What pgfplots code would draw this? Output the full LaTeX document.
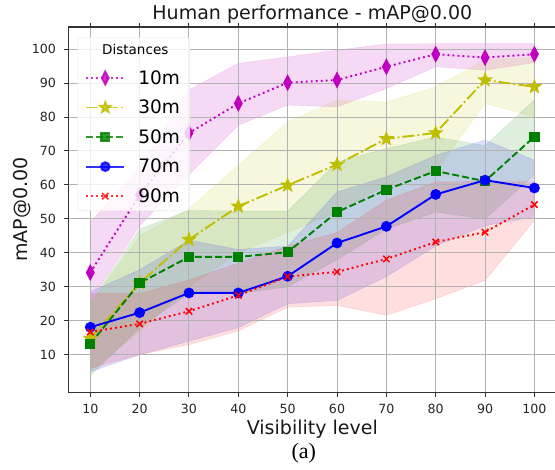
\documentclass[border=0pt]{standalone}
\usepackage{pgfplots}
\pgfplotsset{compat=1.18}
\usepackage{fontspec}
\setmainfont{DejaVu Sans}
\newfontfamily\capfont{Liberation Serif}
\usetikzlibrary{plotmarks}

\definecolor{mc}{rgb}{0.75,0,0.75}
\definecolor{yc}{rgb}{0.75,0.75,0}
\definecolor{gc}{rgb}{0,0.5,0}
\definecolor{bc}{rgb}{0,0,1}
\definecolor{rc}{rgb}{1,0,0}

\pgfdeclareplotmark{fstar}{%
  \pgfpathmoveto{\pgfpointpolar{90}{\pgfplotmarksize}}%
  \pgfpathlineto{\pgfpointpolar{126}{0.42\pgfplotmarksize}}%
  \pgfpathlineto{\pgfpointpolar{162}{\pgfplotmarksize}}%
  \pgfpathlineto{\pgfpointpolar{198}{0.42\pgfplotmarksize}}%
  \pgfpathlineto{\pgfpointpolar{234}{\pgfplotmarksize}}%
  \pgfpathlineto{\pgfpointpolar{270}{0.42\pgfplotmarksize}}%
  \pgfpathlineto{\pgfpointpolar{306}{\pgfplotmarksize}}%
  \pgfpathlineto{\pgfpointpolar{342}{0.42\pgfplotmarksize}}%
  \pgfpathlineto{\pgfpointpolar{18}{\pgfplotmarksize}}%
  \pgfpathlineto{\pgfpointpolar{54}{0.42\pgfplotmarksize}}%
  \pgfpathclose
  \pgfusepathqfillstroke
}

\begin{document}
\begin{tikzpicture}
\begin{axis}[
  set layers,
  scale only axis, width=488pt, height=365pt,
  xmin=5.5, xmax=104.5, ymin=-1.1, ymax=106.5,
  xtick={10,20,...,100}, ytick={10,20,...,100},
  grid=major, grid style={color=black!30, line width=1pt},
  axis line style={color=black!80, line width=1.1pt},
  tick align=outside, major tick length=4.5pt,
  tick style={color=black!80, line width=1pt},
  tick label style={font=\fontsize{12.6}{14}\selectfont, color=black!85},
  /pgf/number format/assume math mode=true,
  xticklabel style={anchor=base, inner sep=0pt, yshift=-17pt},
  yticklabel style={anchor=east, inner sep=0pt, xshift=-7.5pt},
  title={Human performance - mAP@0.00},
  title style={at={(axis description cs:0.5,1)}, anchor=base, yshift=1.5pt, inner sep=0pt, font=\fontsize{19}{22}\selectfont, color=black!90},
  xlabel={Visibility level},
  xlabel style={at={(axis description cs:0.5,0)}, anchor=base, yshift=-42pt, inner sep=0pt, font=\fontsize{19}{22}\selectfont, color=black!90},
  ylabel={mAP@0.00},
  ylabel style={at={(axis description cs:-0.0758,0.5)}, anchor=south, inner sep=0pt, font=\fontsize{19}{22}\selectfont, color=black!90},
  legend cell align=left,
  legend image code/.code={%
    \draw[#1, mark=none] (0pt,0pt) -- (38pt,0pt);
    \draw[#1, only marks] plot coordinates {(19pt,0pt)};},
  legend style={at={(axis description cs:0,1)}, anchor=north west, xshift=9pt, yshift=-10pt,
    draw=black!15, rounded corners=3pt, fill=white, fill opacity=0.8, draw opacity=0.8, text opacity=1,
    inner xsep=8pt, inner ysep=5pt, row sep=10.3pt, column sep=11pt,
    font=\fontsize{18.5}{20}\selectfont},
]
\coordinate (sw) at (rel axis cs:0,0);
\coordinate (ne) at (rel axis cs:1,1);

% ---- bands (upper forward, lower reversed) ----
\addplot[forget plot, draw=mc, draw opacity=0.15, fill=mc, fill opacity=0.15, on layer=axis background] coordinates {
 (10,49) (20,65) (30,88) (40,95.8) (50,97.7) (60,99.7) (70,101.5) (80,101.6) (90,101.6) (100,101.6)
 (100,96) (90,93.8) (80,94.8) (70,88.4) (60,83) (50,83.5) (40,77.6) (30,63) (20,48) (10,25.5)} -- cycle;
\addplot[forget plot, draw=yc, draw opacity=0.15, fill=yc, fill opacity=0.13, on layer=axis background] coordinates {
 (10,25) (20,45) (30,53) (40,65.8) (50,78.6) (60,85) (70,84.4) (80,88.9) (90,96.8) (100,97.5)
 (100,80) (90,84) (80,64) (70,60) (60,52) (50,46) (40,40) (30,30) (20,17) (10,5)} -- cycle;
\addplot[forget plot, draw=gc, draw opacity=0.15, fill=gc, fill opacity=0.13, on layer=axis background] coordinates {
 (10,25) (20,47) (30,52.5) (40,52.3) (50,52.3) (60,66.8) (70,70.7) (80,74.1) (90,71.6) (100,85)
 (100,63) (90,50) (80,52) (70,47) (60,38) (50,30) (40,28) (30,28) (20,18) (10,3.8)} -- cycle;
\addplot[forget plot, draw=bc, draw opacity=0.15, fill=bc, fill opacity=0.13, on layer=axis background] coordinates {
 (10,28.5) (20,35) (30,43.7) (40,41) (50,42) (60,57.9) (70,62.4) (80,68.7) (90,73.2) (100,67.3)
 (100,50.6) (90,48) (80,42) (70,33) (60,26) (50,25) (40,18) (30,14) (20,10) (10,5)} -- cycle;
\addplot[forget plot, draw=rc, draw opacity=0.15, fill=rc, fill opacity=0.13, on layer=axis background] coordinates {
 (10,28) (20,28) (30,32) (40,37) (50,42) (60,46) (70,55.5) (80,60.9) (90,61) (100,61)
 (100,49.6) (90,31.9) (80,26.5) (70,21.6) (60,24.5) (50,24) (40,17) (30,13) (20,10) (10,6)} -- cycle;

% ---- legend title ----
\addlegendimage{empty legend}
\addlegendentry{\fontsize{13.5}{14}\selectfont\hspace*{-36pt}Distances}

% ---- mean lines ----
\addplot[color=mc, line width=1.9pt, dash pattern=on 1.9pt off 3.1pt, mark=diamond*, mark size=6.5pt, mark options={solid, xscale=0.7}] coordinates {
 (10,34.2) (20,57) (30,75.3) (40,84) (50,90.1) (60,90.9) (70,94.8) (80,98.5) (90,97.5) (100,98.5)};
\addlegendentry{10m}
\addplot[color=yc, line width=1.9pt, dash pattern=on 12pt off 3pt on 1.9pt off 3pt, mark=fstar, mark size=5.5pt, mark options={solid}] coordinates {
 (10,14.8) (20,31.1) (30,43.9) (40,53.7) (50,59.9) (60,66) (70,73.6) (80,75.3) (90,90.9) (100,88.9)};
\addlegendentry{30m}
\addplot[color=gc, line width=1.9pt, dash pattern=on 7pt off 3pt, mark=square*, mark size=4.2pt, mark options={solid}] coordinates {
 (10,13.2) (20,31.1) (30,38.8) (40,38.8) (50,40.2) (60,52) (70,58.6) (80,64.1) (90,61.1) (100,74.2)};
\addlegendentry{50m}
\addplot[color=bc, line width=1.9pt, mark=*, mark size=4.4pt, mark options={solid}] coordinates {
 (10,18.1) (20,22.4) (30,28.2) (40,28.2) (50,33.1) (60,42.9) (70,47.8) (80,57.2) (90,61.4) (100,59.1)};
\addlegendentry{70m}
\addplot[color=rc, line width=1.9pt, dash pattern=on 1.9pt off 3.1pt, mark=x, mark size=4.5pt, mark options={solid, line width=1.5pt}] coordinates {
 (10,16.7) (20,19.1) (30,22.8) (40,27.5) (50,33) (60,34.4) (70,38.2) (80,43.2) (90,46.1) (100,54.2)};
\addlegendentry{90m}
\end{axis}
\node[font=\capfont\fontsize{22}{24}\selectfont, anchor=base, inner sep=0pt] at ([shift={(235.5pt,-66pt)}]sw) {(a)};
\pgfresetboundingbox
\useasboundingbox ([shift={(-68pt,-77pt)}]sw) rectangle ([shift={(-1.6pt,27pt)}]ne);
\end{tikzpicture}
\end{document}
